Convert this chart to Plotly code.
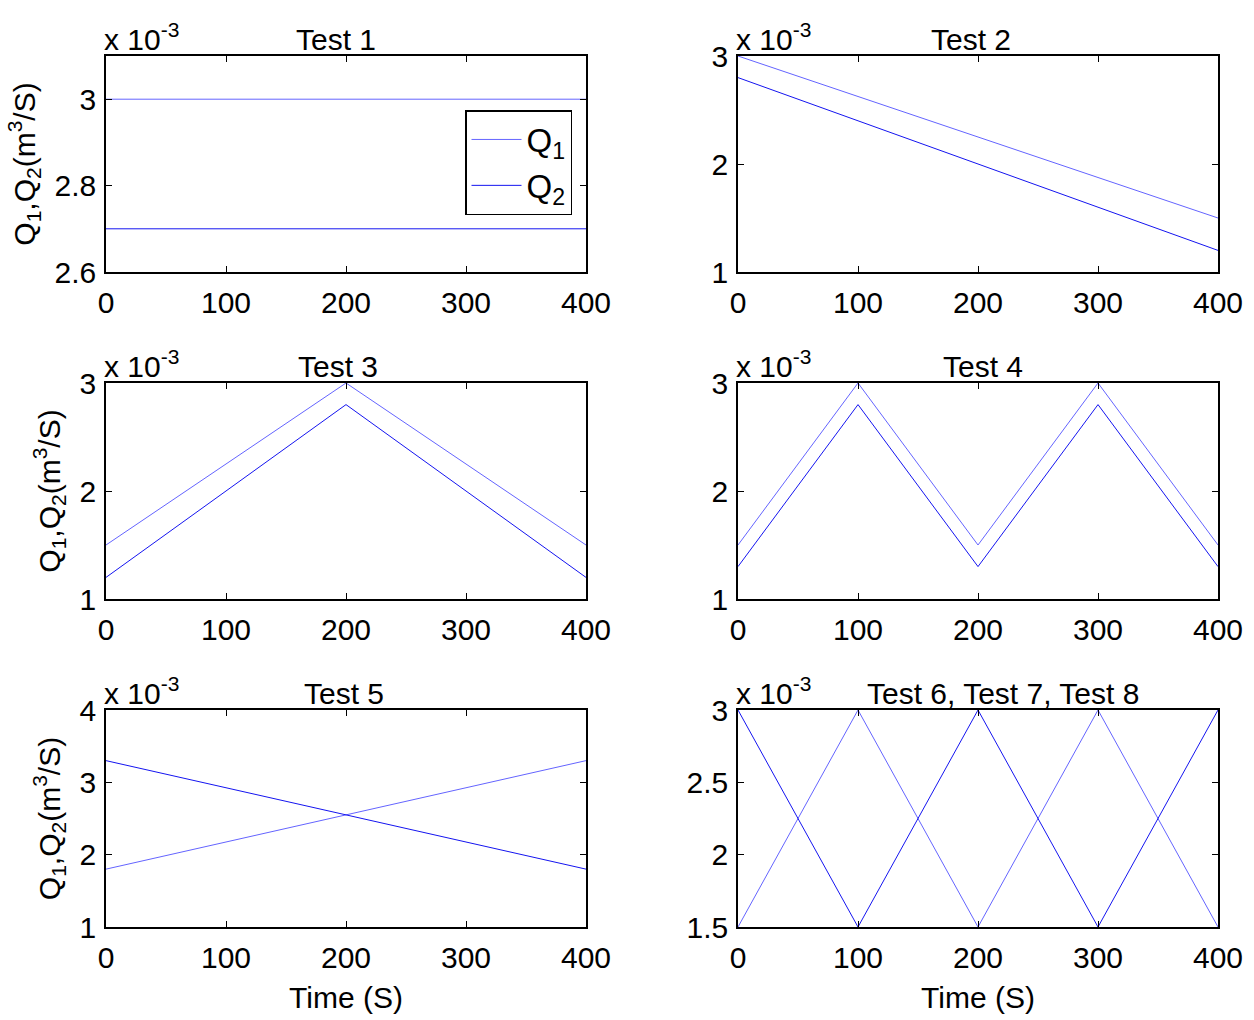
import plotly.graph_objects as go

W, H = 1254, 1020

# ---- data (flow values in units of 1e-3 m^3/s, time in s) ----
t1_time = [0, 400]
t1_q1 = [3.0, 3.0]
t1_q2 = [2.7, 2.7]

t2_time = [0, 400]
t2_q1 = [3.0, 1.5]
t2_q2 = [2.8, 1.2]

t3_time = [0, 200, 400]
t3_q1 = [1.5, 3.0, 1.5]
t3_q2 = [1.2, 2.8, 1.2]

t4_time = [0, 100, 200, 300, 400]
t4_q1 = [1.5, 3.0, 1.5, 3.0, 1.5]
t4_q2 = [1.3, 2.8, 1.3, 2.8, 1.3]

t5_time = [0, 400]
t5_q1 = [1.8, 3.3]
t5_q2 = [3.3, 1.8]

t6_time = [0, 100, 200, 300, 400]
t6_q1 = [1.5, 3.0, 1.5, 3.0, 1.5]
t6_q2 = [3.0, 1.5, 3.0, 1.5, 3.0]

titles = ["Test 1", "Test 2", "Test 3", "Test 4", "Test 5", "Test 6, Test 7, Test 8"]
x_ticks = [0, 100, 200, 300, 400]
y_ranges = [[2.6, 3.1], [1, 3], [1, 3], [1, 3], [1, 4], [1.5, 3]]
y_dticks = [0.2, 1, 1, 1, 1, 0.5]
series = [
    (t1_time, t1_q1, t1_q2),
    (t2_time, t2_q1, t2_q2),
    (t3_time, t3_q1, t3_q2),
    (t4_time, t4_q1, t4_q2),
    (t5_time, t5_q1, t5_q2),
    (t6_time, t6_q1, t6_q2),
]

FONT = "Liberation Sans, Arial, sans-serif"
FS = 30
C_Q1 = "#6464ff"
C_Q2 = "#1414f0"

# panel pixel boxes (left, right) and (top, bottom)
cols = [(106, 586), (738, 1218)]
rows = [(56, 272), (383, 599), (710, 927)]
title_shift = [-10, -7, -8, 5, -2, 25]

fig = go.Figure()
annotations = []
layout = {}
for i, (tt, q1, q2) in enumerate(series):
    r, c = divmod(i, 2)
    xl, xr = cols[c]
    yt, yb = rows[r]
    n = "" if i == 0 else str(i + 1)
    xa, ya = "x" + n, "y" + n
    fig.add_trace(go.Scatter(x=tt, y=q1, mode="lines", name="Q<sub>1</sub>",
                             line=dict(color=C_Q1, width=1), xaxis=xa, yaxis=ya,
                             showlegend=(i == 0)))
    fig.add_trace(go.Scatter(x=tt, y=q2, mode="lines", name="Q<sub>2</sub>",
                             line=dict(color=C_Q2, width=1), xaxis=xa, yaxis=ya,
                             showlegend=(i == 0)))
    common = dict(showline=True, linecolor="black", linewidth=1.5, mirror="ticks",
                  ticks="inside", ticklen=6, tickcolor="black", tickwidth=1,
                  showgrid=False, zeroline=False, automargin=False,
                  tickfont=dict(family=FONT, size=FS, color="black"))
    xdict = dict(common, domain=[xl / W, xr / W], range=[0, 400], tickvals=x_ticks,
                 anchor=ya, ticklabelstandoff=3)
    if r == 2:
        xdict["title"] = dict(text="Time (S)", font=dict(family=FONT, size=FS, color="black"),
                              standoff=14)
    ydict = dict(common, domain=[1 - yb / H, 1 - yt / H], range=y_ranges[i],
                 dtick=y_dticks[i], tick0=y_ranges[i][0], anchor=xa, ticklabelstandoff=2)
    if c == 0:
        ydict["title"] = dict(text="Q<sub>1</sub>,Q<sub>2</sub>(m<sup>3</sup>/S)",
                              font=dict(family=FONT, size=FS, color="black"), standoff=10)
    layout["xaxis" + n] = xdict
    layout["yaxis" + n] = ydict
    annotations.append(dict(text=titles[i], xref="paper", yref="paper",
                            x=(xl + xr) / 2 / W, y=1 - yt / H, xanchor="center",
                            yanchor="bottom", showarrow=False, yshift=-2,
                            xshift=title_shift[i],
                            font=dict(family=FONT, size=FS, color="black")))
    annotations.append(dict(text="x 10<sup>-3</sup>", xref="paper", yref="paper",
                            x=xl / W, y=1 - yt / H, xanchor="left",
                            yanchor="bottom", showarrow=False, yshift=-2, xshift=-4,
                            font=dict(family=FONT, size=FS, color="black")))

fig.update_layout(**layout)
fig.update_layout(
    width=W, height=H, margin=dict(l=0, r=0, t=0, b=0, autoexpand=False),
    paper_bgcolor="white", plot_bgcolor="white",
    annotations=annotations,
    legend=dict(x=465 / W, y=1 - 110 / H, xanchor="left", yanchor="top",
                bordercolor="black", borderwidth=1.5, bgcolor="white",
                font=dict(family=FONT, size=33, color="black"),
                tracegroupgap=0, itemwidth=50),
    showlegend=True,
)
fig.write_html("out.html")
